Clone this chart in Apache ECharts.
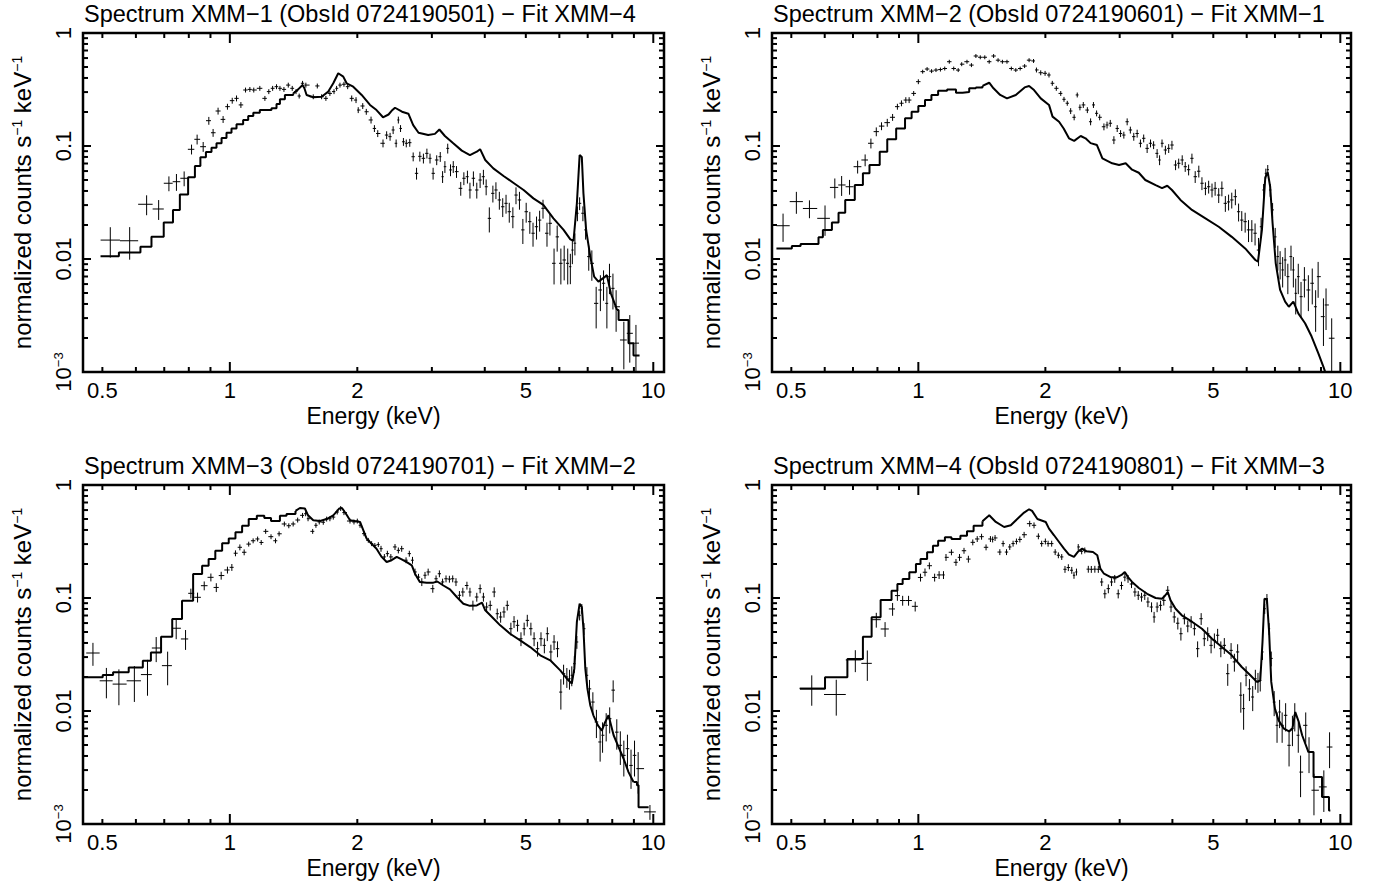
<!DOCTYPE html>
<html><head><meta charset="utf-8">
<script src="https://cdn.jsdelivr.net/npm/echarts@6/dist/echarts.min.js"></script>
<style>html,body{margin:0;padding:0;background:#fff}#c{width:1379px;height:888px}</style>
</head><body><div id="c"></div>
<script>
// ---------- tick / label values ----------
const xTickLabels = [0.5, 1, 2, 5, 10];
const yTickLabels = [0.001, 0.01, 0.1, 1];
const xTickMajor = [1, 10];
const xTickMinor = [0.5, 0.6, 0.7, 0.8, 0.9, 2, 3, 4, 5, 6, 7, 8, 9];
const yTickMajor = [0.001, 0.01, 0.1, 1];
const yTickMinor = [0.002,0.003,0.004,0.005,0.006,0.007,0.008,0.009,
                    0.02,0.03,0.04,0.05,0.06,0.07,0.08,0.09,
                    0.2,0.3,0.4,0.5,0.6,0.7,0.8,0.9];
const panelTitles = [
  'Spectrum XMM\u22121 (ObsId 0724190501) \u2212 Fit XMM\u22124',
  'Spectrum XMM\u22122 (ObsId 0724190601) \u2212 Fit XMM\u22121',
  'Spectrum XMM\u22123 (ObsId 0724190701) \u2212 Fit XMM\u22122',
  'Spectrum XMM\u22124 (ObsId 0724190801) \u2212 Fit XMM\u22123'
];

// ---------- XMM-1 ----------
const xmm1ModelE = [0.495,0.547,0.615,0.653,0.698,0.734,0.762,0.797,0.827,0.852,0.878,0.905,0.93,0.956,0.982,1.009,1.037,1.075,1.105,1.136,1.177,1.254,1.289,1.313,1.349,1.411,1.45,1.485,1.5,1.518,1.574,1.647,1.708,1.755,1.803,1.853,1.887,1.956,2.048,2.143,2.22,2.3,2.37,2.41,2.455,2.55,2.64,2.71,2.79,2.94,3.05,3.125,3.22,3.37,3.53,3.69,3.83,3.9,4.01,4.19,4.43,4.67,4.94,5.21,5.5,5.81,6.14,6.37,6.48,6.6,6.7,6.78,6.84,6.94,7.1,7.25,7.42,7.63,7.77,7.94,8.21,8.28,8.74,8.98,9.28];
const xmm1ModelV = [0.0106,0.0114,0.01285,0.01575,0.021,0.0272,0.0373,0.0528,0.0665,0.0794,0.0885,0.0966,0.1057,0.1177,0.131,0.143,0.1556,0.17,0.184,0.197,0.208,0.216,0.235,0.259,0.283,0.292,0.317,0.346,0.324,0.283,0.27,0.273,0.303,0.359,0.44,0.411,0.359,0.335,0.283,0.231,0.208,0.1795,0.19,0.205,0.218,0.201,0.193,0.153,0.131,0.125,0.128,0.14,0.1226,0.1057,0.091,0.0832,0.089,0.0937,0.0752,0.0634,0.0543,0.0473,0.0408,0.0344,0.0301,0.0229,0.0181,0.0149,0.0145,0.0311,0.0832,0.08,0.0381,0.0181,0.0105,0.00698,0.0063,0.0068,0.0072,0.00497,0.00354,0.00288,0.0018,0.0014];
const xmm1DataE = [0.522,0.58,0.636,0.679,0.718,0.748,0.78,0.812,0.837,0.865,0.892,0.913,0.938,0.964,0.987,1.013,1.037,1.062,1.089,1.115,1.139,1.177,1.21,1.236,1.262,1.289,1.313,1.342,1.374,1.404,1.433,1.458,1.485,1.512,1.574,1.609,1.647,1.686,1.723,1.762,1.787,1.82,1.86,1.898,1.94,1.986,2.01,2.06,2.1,2.155,2.195,2.235,2.3,2.346,2.39,2.43,2.47,2.5,2.53,2.57,2.61,2.66,2.71,2.76,2.81,2.865,2.92,2.97,3.02,3.08,3.14,3.18,3.22,3.27,3.32,3.37,3.43,3.51,3.57,3.64,3.69,3.76,3.83,3.9,3.97,4.03,4.1,4.18,4.25,4.33,4.41,4.49,4.57,4.66,4.74,4.83,4.92,5.01,5.11,5.2,5.3,5.39,5.49,5.61,5.7,5.83,5.93,6.05,6.16,6.28,6.37,6.44,6.53,6.62,6.7,6.82,6.92,7.04,7.16,7.33,7.5,7.63,7.77,7.88,8.03,8.17,8.52,8.8,9.1];
const xmm1DataY = [0.0147,0.0145,0.0305,0.0277,0.0468,0.0483,0.0518,0.0935,0.1146,0.0986,0.1675,0.131,0.204,0.172,0.223,0.252,0.264,0.231,0.313,0.317,0.313,0.324,0.264,0.303,0.324,0.335,0.324,0.317,0.346,0.324,0.303,0.277,0.359,0.346,0.273,0.34,0.273,0.264,0.292,0.303,0.324,0.346,0.352,0.335,0.264,0.255,0.208,0.226,0.201,0.17,0.143,0.129,0.1057,0.125,0.121,0.1386,0.1057,0.17,0.143,0.109,0.1057,0.107,0.0804,0.0573,0.081,0.0778,0.0861,0.0778,0.0573,0.0752,0.0804,0.0535,0.0656,0.0953,0.0614,0.0656,0.0593,0.0422,0.0518,0.0535,0.0408,0.0518,0.0408,0.05,0.0535,0.0436,0.0229,0.0381,0.0408,0.0333,0.029,0.0311,0.0262,0.0237,0.0368,0.0333,0.0181,0.0262,0.0214,0.0169,0.0193,0.0221,0.0281,0.0169,0.0207,0.00916,0.0157,0.00916,0.0098,0.00916,0.00855,0.012,0.0138,0.0254,0.0311,0.0254,0.0181,0.0105,0.00916,0.00405,0.00532,0.0061,0.00405,0.00698,0.0055,0.00378,0.00192,0.0022,0.0018];
const xmm1DataErr = [0.3,0.32,0.2,0.2,0.15,0.17,0.15,0.1,0.1,0.1,0.08,0.08,0.07,0.07,0.06,0.06,0.06,0.06,0.05,0.05,0.05,0.05,0.05,0.05,0.05,0.05,0.05,0.05,0.05,0.05,0.05,0.05,0.05,0.05,0.05,0.05,0.05,0.05,0.05,0.05,0.05,0.05,0.05,0.05,0.06,0.06,0.06,0.06,0.06,0.07,0.07,0.07,0.08,0.08,0.08,0.08,0.08,0.07,0.07,0.08,0.08,0.08,0.09,0.12,0.1,0.1,0.1,0.1,0.12,0.1,0.1,0.12,0.12,0.1,0.12,0.12,0.12,0.14,0.13,0.13,0.16,0.15,0.16,0.15,0.15,0.16,0.25,0.17,0.17,0.18,0.19,0.19,0.2,0.21,0.17,0.18,0.25,0.2,0.22,0.24,0.23,0.21,0.19,0.24,0.22,0.35,0.26,0.35,0.34,0.35,0.3,0.25,0.22,0.15,0.13,0.15,0.18,0.25,0.3,0.4,0.35,0.3,0.4,0.3,0.35,0.4,0.45,0.45,0.45];

// ---------- XMM-2 ----------
const xmm2ModelE = [0.461,0.5015,0.526,0.58,0.594,0.624,0.647,0.671,0.707,0.739,0.766,0.81,0.844,0.886,0.93,0.964,1.0,1.037,1.074,1.114,1.17,1.228,1.273,1.32,1.369,1.419,1.472,1.507,1.563,1.622,1.702,1.786,1.83,1.88,1.95,2.04,2.08,2.155,2.21,2.275,2.34,2.425,2.49,2.56,2.65,2.73,2.88,2.99,3.1,3.21,3.33,3.45,3.65,3.78,3.89,3.99,4.18,4.45,4.79,5.15,5.53,5.95,6.29,6.38,6.52,6.64,6.73,6.82,6.91,7.03,7.2,7.4,7.55,7.74,7.95,8.25,8.55,8.87,9.12,9.3,9.45];
const xmm2ModelV = [0.0124,0.013,0.0136,0.0156,0.0181,0.021,0.0257,0.0333,0.0452,0.0573,0.068,0.089,0.1146,0.143,0.176,0.201,0.226,0.255,0.283,0.309,0.317,0.296,0.3,0.324,0.33,0.34,0.363,0.324,0.283,0.264,0.283,0.33,0.34,0.313,0.264,0.231,0.182,0.164,0.143,0.117,0.111,0.1226,0.117,0.106,0.102,0.0778,0.0703,0.068,0.0703,0.0617,0.058,0.05,0.045,0.0424,0.0445,0.0408,0.0333,0.0272,0.0229,0.0193,0.0157,0.0124,0.0098,0.0095,0.0181,0.0528,0.0585,0.0436,0.0207,0.00916,0.00532,0.00419,0.00378,0.00419,0.0033,0.0027,0.00206,0.00146,0.00111,0.0009];
const xmm2DataE = [0.478,0.514,0.552,0.601,0.634,0.658,0.687,0.718,0.748,0.772,0.795,0.818,0.844,0.869,0.892,0.912,0.934,0.951,0.975,1.0,1.024,1.049,1.075,1.101,1.128,1.155,1.184,1.213,1.243,1.267,1.304,1.336,1.369,1.402,1.437,1.472,1.508,1.545,1.582,1.622,1.661,1.702,1.743,1.786,1.83,1.875,1.905,1.95,1.997,2.04,2.077,2.123,2.175,2.214,2.254,2.296,2.34,2.38,2.415,2.46,2.515,2.56,2.6,2.645,2.69,2.753,2.8,2.85,2.907,2.96,3.015,3.069,3.125,3.18,3.24,3.3,3.36,3.42,3.485,3.55,3.61,3.68,3.73,3.78,3.85,3.92,3.99,4.07,4.14,4.22,4.29,4.37,4.45,4.53,4.62,4.7,4.79,4.875,4.965,5.05,5.15,5.24,5.34,5.435,5.53,5.64,5.74,5.84,5.95,6.06,6.17,6.28,6.4,6.49,6.58,6.66,6.73,6.82,6.91,7.01,7.11,7.2,7.3,7.4,7.51,7.64,7.74,7.84,7.95,8.07,8.22,8.4,8.58,8.74,8.86,9.12,9.25,9.54];
const xmm2DataY = [0.0197,0.0322,0.028,0.0229,0.043,0.0452,0.0436,0.0656,0.0752,0.1057,0.134,0.15,0.161,0.1795,0.223,0.239,0.255,0.255,0.292,0.371,0.455,0.48,0.46,0.47,0.475,0.485,0.557,0.485,0.47,0.53,0.557,0.52,0.626,0.61,0.61,0.557,0.626,0.575,0.557,0.557,0.485,0.47,0.485,0.51,0.575,0.566,0.471,0.445,0.44,0.425,0.359,0.324,0.292,0.259,0.239,0.204,0.1795,0.283,0.22,0.231,0.208,0.164,0.231,0.1946,0.1795,0.148,0.1535,0.159,0.113,0.143,0.129,0.125,0.164,0.1386,0.121,0.129,0.1057,0.117,0.0953,0.1057,0.102,0.0861,0.0752,0.1057,0.0922,0.0953,0.102,0.0679,0.0703,0.0752,0.0656,0.0617,0.0778,0.0535,0.0598,0.0468,0.0422,0.0436,0.0408,0.0422,0.0368,0.0422,0.0311,0.032,0.0333,0.0356,0.0262,0.0221,0.0214,0.0181,0.0181,0.0169,0.012,0.0193,0.0408,0.0573,0.0617,0.0408,0.0272,0.0157,0.0105,0.00916,0.008,0.0098,0.00698,0.0105,0.008,0.00497,0.00698,0.00464,0.00652,0.00532,0.0061,0.00378,0.00698,0.00309,0.00392,0.00199];
const xmm2DataErr = [0.28,0.22,0.18,0.3,0.2,0.2,0.15,0.13,0.12,0.1,0.09,0.08,0.08,0.07,0.06,0.06,0.06,0.06,0.05,0.05,0.04,0.04,0.04,0.04,0.04,0.04,0.04,0.04,0.04,0.04,0.04,0.04,0.04,0.04,0.04,0.04,0.04,0.04,0.04,0.04,0.04,0.04,0.04,0.04,0.04,0.04,0.05,0.05,0.05,0.05,0.05,0.05,0.05,0.05,0.05,0.06,0.06,0.05,0.06,0.06,0.06,0.07,0.06,0.06,0.06,0.07,0.07,0.07,0.08,0.07,0.07,0.07,0.07,0.07,0.08,0.08,0.08,0.08,0.09,0.08,0.08,0.09,0.1,0.08,0.09,0.09,0.09,0.1,0.1,0.1,0.1,0.11,0.1,0.12,0.12,0.13,0.13,0.13,0.14,0.14,0.15,0.15,0.16,0.16,0.16,0.16,0.18,0.2,0.2,0.22,0.22,0.22,0.28,0.2,0.13,0.1,0.1,0.13,0.15,0.2,0.25,0.28,0.3,0.28,0.3,0.25,0.3,0.35,0.3,0.35,0.3,0.35,0.35,0.4,0.35,0.45,0.4,0.5];

// ---------- XMM-3 ----------
const xmm3ModelE = [0.453,0.501,0.53,0.577,0.623,0.651,0.688,0.731,0.771,0.819,0.86,0.891,0.924,0.959,0.994,1.031,1.069,1.108,1.158,1.206,1.251,1.313,1.361,1.429,1.464,1.504,1.53,1.574,1.633,1.693,1.755,1.814,1.84,1.887,1.922,2.03,2.067,2.104,2.16,2.22,2.283,2.346,2.41,2.478,2.546,2.617,2.69,2.737,2.81,2.917,3.025,3.09,3.193,3.31,3.435,3.56,3.69,3.83,3.94,4.01,4.16,4.35,4.59,4.85,5.12,5.41,5.71,6.03,6.25,6.42,6.51,6.6,6.7,6.78,6.84,6.91,6.99,7.1,7.22,7.4,7.56,7.7,7.84,8.06,8.28,8.51,8.74,8.98,9.15,9.23,9.75];
const xmm3ModelV = [0.0199,0.0208,0.022,0.0243,0.0279,0.033,0.0455,0.0652,0.0946,0.163,0.193,0.221,0.262,0.305,0.337,0.381,0.436,0.5,0.535,0.511,0.48,0.535,0.554,0.59,0.626,0.62,0.539,0.487,0.48,0.5,0.539,0.62,0.626,0.545,0.487,0.471,0.397,0.335,0.303,0.273,0.231,0.208,0.216,0.231,0.22,0.208,0.1946,0.164,0.1386,0.1367,0.1367,0.14,0.129,0.1194,0.102,0.089,0.0852,0.086,0.091,0.0778,0.0679,0.0573,0.0483,0.0422,0.0368,0.0311,0.0281,0.0229,0.0193,0.0175,0.0237,0.0614,0.089,0.083,0.0535,0.0237,0.0158,0.0112,0.00916,0.00747,0.0067,0.008,0.00916,0.0061,0.0048,0.00378,0.00288,0.00235,0.0022,0.00141];
const xmm3DataE = [0.475,0.511,0.547,0.595,0.639,0.67,0.713,0.747,0.786,0.809,0.839,0.87,0.902,0.929,0.954,0.987,1.011,1.031,1.056,1.081,1.108,1.135,1.163,1.186,1.215,1.251,1.282,1.307,1.345,1.378,1.411,1.446,1.485,1.51,1.53,1.569,1.597,1.626,1.662,1.693,1.723,1.755,1.793,1.827,1.86,1.922,1.964,2.0,2.03,2.074,2.123,2.162,2.2,2.242,2.275,2.317,2.355,2.4,2.455,2.5,2.546,2.607,2.654,2.7,2.737,2.79,2.84,2.89,2.94,3.015,3.069,3.125,3.18,3.24,3.3,3.36,3.42,3.485,3.55,3.63,3.69,3.75,3.83,3.9,3.97,4.04,4.12,4.21,4.28,4.36,4.44,4.52,4.61,4.69,4.78,4.87,4.955,5.04,5.14,5.23,5.33,5.43,5.53,5.62,5.73,5.83,5.94,6.05,6.14,6.25,6.34,6.42,6.51,6.6,6.7,6.78,6.86,6.97,7.07,7.2,7.34,7.49,7.59,7.74,7.89,8.04,8.2,8.36,8.52,8.69,8.86,9.03,9.21,9.82];
const xmm3DataY = [0.0326,0.0185,0.0173,0.0185,0.021,0.0361,0.0252,0.054,0.0434,0.11,0.1014,0.1285,0.1524,0.124,0.158,0.177,0.1868,0.249,0.281,0.254,0.3,0.321,0.333,0.31,0.389,0.349,0.321,0.37,0.452,0.436,0.452,0.49,0.539,0.557,0.503,0.389,0.44,0.471,0.468,0.5,0.503,0.52,0.577,0.62,0.57,0.48,0.471,0.48,0.44,0.371,0.324,0.303,0.292,0.297,0.273,0.231,0.247,0.231,0.283,0.264,0.273,0.216,0.247,0.216,0.17,0.153,0.1386,0.159,0.17,0.121,0.148,0.164,0.1386,0.148,0.147,0.148,0.1386,0.1057,0.113,0.129,0.113,0.0861,0.102,0.121,0.102,0.0832,0.0861,0.113,0.0726,0.0679,0.0752,0.0861,0.0535,0.0617,0.0573,0.0436,0.0535,0.0634,0.0535,0.0436,0.0356,0.0436,0.0381,0.0483,0.0333,0.0408,0.0356,0.0147,0.0214,0.02,0.0193,0.0207,0.0262,0.0408,0.0703,0.0804,0.0535,0.0207,0.0157,0.012,0.008,0.00532,0.0061,0.00747,0.00855,0.0153,0.0065,0.00497,0.00405,0.00464,0.0033,0.00405,0.00309,0.00128];
const xmm3DataErr = [0.23,0.3,0.35,0.35,0.35,0.25,0.33,0.2,0.2,0.1,0.1,0.09,0.08,0.09,0.08,0.07,0.07,0.06,0.06,0.06,0.05,0.05,0.05,0.05,0.05,0.05,0.05,0.05,0.05,0.05,0.05,0.05,0.05,0.05,0.05,0.05,0.05,0.05,0.05,0.05,0.05,0.05,0.05,0.05,0.05,0.05,0.05,0.05,0.05,0.05,0.05,0.05,0.05,0.05,0.06,0.06,0.06,0.06,0.06,0.06,0.06,0.06,0.06,0.07,0.07,0.07,0.08,0.07,0.07,0.08,0.07,0.07,0.07,0.07,0.07,0.07,0.08,0.09,0.09,0.08,0.09,0.1,0.09,0.09,0.09,0.1,0.1,0.1,0.11,0.11,0.11,0.1,0.13,0.12,0.12,0.14,0.13,0.12,0.13,0.14,0.15,0.14,0.15,0.14,0.16,0.15,0.16,0.3,0.2,0.2,0.2,0.2,0.17,0.13,0.1,0.1,0.12,0.18,0.2,0.22,0.28,0.33,0.3,0.28,0.26,0.22,0.3,0.33,0.35,0.33,0.38,0.35,0.4,0.15];

// ---------- XMM-4 ----------
const xmm4ModelE = [0.524,0.601,0.679,0.739,0.775,0.814,0.864,0.892,0.918,0.952,0.987,1.012,1.049,1.083,1.114,1.156,1.198,1.258,1.304,1.352,1.419,1.461,1.472,1.526,1.597,1.656,1.718,1.781,1.83,1.86,1.915,2.004,2.04,2.097,2.155,2.214,2.275,2.338,2.393,2.446,2.5,2.593,2.655,2.7,2.754,2.855,2.96,3.03,3.085,3.14,3.21,3.33,3.485,3.65,3.78,3.85,3.9,3.96,4.07,4.21,4.45,4.7,4.965,5.24,5.53,5.84,6.12,6.34,6.46,6.54,6.61,6.7,6.78,6.86,7.0,7.14,7.35,7.56,7.7,7.82,7.97,8.12,8.4,8.64,9.05,9.4,9.47];
const xmm4ModelV = [0.0157,0.0199,0.0288,0.0455,0.0675,0.096,0.116,0.133,0.147,0.169,0.2,0.221,0.254,0.29,0.321,0.344,0.333,0.356,0.389,0.436,0.477,0.525,0.539,0.471,0.425,0.44,0.503,0.57,0.61,0.59,0.5,0.471,0.411,0.359,0.313,0.273,0.242,0.231,0.259,0.273,0.259,0.255,0.239,0.182,0.164,0.153,0.153,0.16,0.17,0.153,0.1386,0.1226,0.109,0.1,0.0986,0.1057,0.113,0.0953,0.0804,0.0703,0.0617,0.0535,0.0436,0.0368,0.0311,0.0245,0.0207,0.0181,0.0186,0.0408,0.0986,0.097,0.05,0.0181,0.0105,0.00826,0.00698,0.0066,0.00698,0.0098,0.008,0.0061,0.00434,0.0026,0.00173,0.00132];
const xmm4DataE = [0.559,0.639,0.709,0.757,0.795,0.834,0.869,0.892,0.918,0.948,0.983,1.012,1.037,1.062,1.093,1.12,1.147,1.163,1.198,1.228,1.252,1.283,1.314,1.346,1.379,1.412,1.447,1.482,1.5,1.52,1.56,1.588,1.618,1.647,1.677,1.708,1.74,1.781,1.836,1.88,1.925,1.96,2.0,2.03,2.07,2.11,2.147,2.187,2.226,2.267,2.31,2.338,2.37,2.393,2.438,2.48,2.528,2.57,2.62,2.67,2.72,2.767,2.82,2.87,2.92,2.976,3.03,3.086,3.14,3.2,3.26,3.32,3.38,3.44,3.5,3.57,3.62,3.68,3.75,3.816,3.9,3.97,4.04,4.12,4.19,4.27,4.35,4.43,4.51,4.59,4.68,4.76,4.85,4.94,5.03,5.12,5.21,5.31,5.41,5.51,5.61,5.71,5.81,5.9,5.98,6.09,6.2,6.29,6.38,6.46,6.54,6.62,6.7,6.78,6.86,6.97,7.08,7.18,7.28,7.42,7.56,7.7,7.8,7.95,8.05,8.28,8.43,8.66,9.14,9.43];
const xmm4DataY = [0.0159,0.014,0.0283,0.0264,0.0643,0.0532,0.08,0.105,0.095,0.095,0.0844,0.152,0.169,0.193,0.152,0.16,0.16,0.229,0.254,0.207,0.229,0.262,0.221,0.311,0.333,0.349,0.281,0.333,0.33,0.34,0.255,0.303,0.255,0.283,0.303,0.317,0.33,0.363,0.455,0.44,0.352,0.303,0.317,0.303,0.303,0.255,0.239,0.231,0.1795,0.186,0.176,0.159,0.17,0.283,0.259,0.264,0.18,0.1795,0.18,0.1795,0.1386,0.109,0.121,0.1386,0.148,0.109,0.129,0.153,0.148,0.133,0.113,0.1057,0.102,0.1057,0.0922,0.0832,0.0679,0.0832,0.0861,0.0953,0.117,0.0832,0.0679,0.0598,0.0483,0.0656,0.0565,0.0617,0.0535,0.0356,0.0656,0.0436,0.0483,0.0381,0.0422,0.0468,0.0356,0.0381,0.0214,0.0344,0.0272,0.0333,0.0138,0.0105,0.0207,0.0157,0.0133,0.0193,0.0181,0.0186,0.0333,0.0804,0.0986,0.0535,0.0292,0.012,0.00747,0.0098,0.00747,0.00916,0.00497,0.00698,0.00916,0.0061,0.00288,0.00747,0.00434,0.00199,0.00213,0.0048];
const xmm4DataErr = [0.3,0.35,0.22,0.3,0.15,0.15,0.13,0.1,0.1,0.1,0.1,0.08,0.08,0.07,0.08,0.08,0.08,0.07,0.06,0.07,0.07,0.06,0.07,0.06,0.06,0.06,0.06,0.06,0.06,0.06,0.06,0.06,0.06,0.06,0.06,0.06,0.06,0.06,0.06,0.06,0.06,0.06,0.06,0.06,0.06,0.06,0.06,0.06,0.07,0.07,0.07,0.07,0.07,0.06,0.06,0.06,0.07,0.07,0.07,0.07,0.08,0.09,0.09,0.08,0.08,0.09,0.08,0.08,0.08,0.08,0.09,0.09,0.09,0.09,0.1,0.1,0.11,0.1,0.1,0.1,0.09,0.1,0.11,0.12,0.13,0.11,0.12,0.12,0.13,0.16,0.12,0.14,0.14,0.15,0.15,0.14,0.16,0.16,0.22,0.16,0.18,0.17,0.3,0.35,0.2,0.22,0.25,0.2,0.2,0.2,0.15,0.1,0.1,0.12,0.15,0.25,0.3,0.28,0.3,0.28,0.35,0.3,0.28,0.3,0.4,0.3,0.35,0.4,0.4,0.35];

// ---------- layout ----------
const FONT = "'Liberation Sans', Arial, Helvetica, sans-serif";
const X_MIN = 0.45, X_MAX = 10.6, Y_MIN = 0.001, Y_MAX = 1;
const STEP_LOW = 1.4;                      // wide bins below this energy: draw as steps
const STEP_HIGH = [8.2, 99, 8.9, 8.4];     // wide bins above this energy (per panel): draw as steps
const grids = [
  {left: 83,  top: 33,  width: 581, height: 339},
  {left: 772, top: 33,  width: 579, height: 339},
  {left: 83,  top: 485, width: 581, height: 339},
  {left: 772, top: 485, width: 579, height: 339}
];
const panels = [
  {mE: xmm1ModelE, mV: xmm1ModelV, dE: xmm1DataE, dY: xmm1DataY, dErr: xmm1DataErr},
  {mE: xmm2ModelE, mV: xmm2ModelV, dE: xmm2DataE, dY: xmm2DataY, dErr: xmm2DataErr},
  {mE: xmm3ModelE, mV: xmm3ModelV, dE: xmm3DataE, dY: xmm3DataY, dErr: xmm3DataErr},
  {mE: xmm4ModelE, mV: xmm4ModelV, dE: xmm4DataE, dY: xmm4DataY, dErr: xmm4DataErr}
];

function modelPoints(E, V) {
  const pts = [];
  for (let i = 0; i < V.length; i++) pts.push([E[i], V[i]]);
  if (E.length > V.length) pts.push([E[V.length], V[V.length - 1]]);
  return pts;
}
function splitModel(pts, hiLimit) {
  let k = pts.findIndex(p => p[0] >= STEP_LOW);
  if (k < 0) k = pts.length - 1;
  let h = pts.findIndex(p => p[0] >= hiLimit);
  if (h < 0) h = pts.length - 1;
  return {low: pts.slice(0, k + 1), mid: pts.slice(k, h + 1), high: pts.slice(h)};
}
// data crosses: bin edges at geometric midpoints between neighbouring bin centres
function crossItems(E, Y, R) {
  const n = E.length, out = [];
  for (let i = 0; i < n; i++) {
    const hi = i < n - 1 ? Math.sqrt(E[i] * E[i + 1]) : E[i] * E[i] / Math.sqrt(E[i] * E[i - 1]);
    const lo = i > 0 ? Math.sqrt(E[i] * E[i - 1]) : E[i] * E[i] / Math.sqrt(E[i] * E[i + 1]);
    out.push([E[i], Y[i], lo, hi, Y[i] * (1 - R[i]), Y[i] * (1 + R[i])]);
  }
  return out;
}
function lineEl(a, b, w, c) {
  return {type: 'line', shape: {x1: a[0], y1: a[1], x2: b[0], y2: b[1]}, style: {stroke: c || '#000', lineWidth: w}};
}

const series = [];
panels.forEach((p, i) => {
  series.push({
    type: 'custom', xAxisIndex: i, yAxisIndex: i, clip: true, silent: true,
    encode: {x: 0, y: 1},
    data: crossItems(p.dE, p.dY, p.dErr),
    renderItem: (params, api) => {
      const x = api.value(0), y = api.value(1);
      const a = api.coord([api.value(2), y]), b = api.coord([api.value(3), y]);
      const c = api.coord([x, api.value(4)]), d = api.coord([x, api.value(5)]);
      return {type: 'group', children: [lineEl(a, b, 1, '#000'), lineEl(c, d, 1, '#000')]};
    }
  });
  const m = splitModel(modelPoints(p.mE, p.mV), STEP_HIGH[i]);
  const base = {type: 'line', xAxisIndex: i, yAxisIndex: i, symbol: 'none', silent: true,
                lineStyle: {color: '#000', width: 2}, clip: true, z: 3};
  series.push(Object.assign({}, base, {step: 'end', data: m.low}));
  series.push(Object.assign({}, base, {data: m.mid}));
  if (m.high.length > 1) series.push(Object.assign({}, base, {step: 'end', data: m.high}));
  series.push({
    type: 'custom', xAxisIndex: i, yAxisIndex: i, clip: false, silent: true, z: 5,
    encode: {x: 0, y: 1},
    data: xTickMajor.map(v => [v, 0.1, 10]).concat(xTickMinor.map(v => [v, 0.1, 5])),
    renderItem: (params, api) => {
      const v = api.value(0), len = api.value(2);
      const b = api.coord([v, Y_MIN]), t = api.coord([v, Y_MAX]);
      return {type: 'group', children: [
        lineEl(b, [b[0], b[1] - len], 2), lineEl(t, [t[0], t[1] + len], 2)]};
    }
  });
  series.push({
    type: 'custom', xAxisIndex: i, yAxisIndex: i, clip: false, silent: true, z: 5,
    encode: {x: 0, y: 1},
    data: yTickMajor.map(v => [1, v, 8]).concat(yTickMinor.map(v => [1, v, 5])),
    renderItem: (params, api) => {
      const v = api.value(1), len = api.value(2);
      const l = api.coord([X_MIN, v]), r = api.coord([X_MAX, v]);
      return {type: 'group', children: [
        lineEl(l, [l[0] + len, l[1]], 2), lineEl(r, [r[0] - len, r[1]], 2)]};
    }
  });
});

const labelStyle = {color: '#000', fontFamily: FONT, fontSize: 22};
const option = {
  animation: false,
  backgroundColor: '#fff',
  textStyle: {fontFamily: FONT, color: '#000'},
  title: panelTitles.map((t, i) => ({
    text: t, left: grids[i].left + 1, top: grids[i].top - 31, padding: 0,
    textStyle: {fontFamily: FONT, fontSize: 23.5, fontWeight: 'normal', color: '#000'}
  })),
  grid: grids.map(g => Object.assign({}, g, {
    show: true, borderColor: '#000', borderWidth: 2.5, backgroundColor: 'transparent',
    containLabel: false, outerBoundsMode: 'none'
  })),
  xAxis: grids.map((g, i) => ({
    gridIndex: i, type: 'log', logBase: 10, min: X_MIN, max: X_MAX,
    axisLine: {show: false}, axisTick: {show: false}, splitLine: {show: false}, minorTick: {show: false},
    axisLabel: Object.assign({customValues: xTickLabels, margin: 7, hideOverlap: false,
      formatter: v => String(+(+v).toPrecision(3))}, labelStyle),
    name: 'Energy (keV)', nameLocation: 'middle', nameGap: 32, nameMoveOverlap: false,
    nameTextStyle: {fontFamily: FONT, fontSize: 23, color: '#000'}
  })),
  yAxis: grids.map((g, i) => ({
    gridIndex: i, type: 'log', logBase: 10, min: Y_MIN, max: Y_MAX,
    axisLine: {show: false}, axisTick: {show: false}, splitLine: {show: false}, minorTick: {show: false},
    axisLabel: Object.assign({customValues: yTickLabels, margin: 9, rotate: 90, hideOverlap: false,
      formatter: v => (Math.abs(v - 0.001) < 1e-7 ? '{m|10}{s|\u22123}' : String(+(+v).toPrecision(2))),
      rich: {m: {fontFamily: FONT, fontSize: 22, color: '#000'},
             s: {fontFamily: FONT, fontSize: 13, color: '#000', verticalAlign: 'top'}}}, labelStyle),
    name: '{a|normalized counts s}{s|\u22121}{a| keV}{s|\u22121}',
    nameLocation: 'middle', nameGap: 49, nameRotate: 90, nameMoveOverlap: false,
    nameTextStyle: {fontFamily: FONT, fontSize: 24, color: '#000',
      rich: {a: {fontFamily: FONT, fontSize: 24, color: '#000'},
             s: {fontFamily: FONT, fontSize: 14, color: '#000', verticalAlign: 'top'}}}
  })),
  series: series
};
const chart = echarts.init(document.getElementById('c'), null, {renderer: 'svg', width: 1379, height: 888});
chart.setOption(option);
</script>
</body></html>
